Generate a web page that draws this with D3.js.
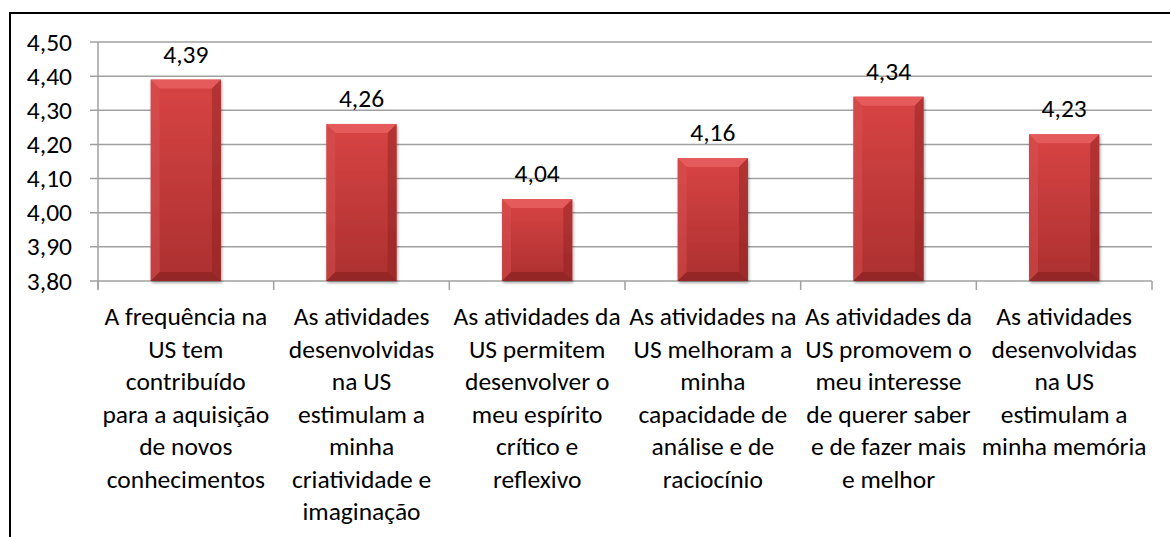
<!DOCTYPE html>
<html>
<head>
<meta charset="utf-8">
<script src="https://cdn.jsdelivr.net/npm/d3@7"></script>
<style>
  body { margin: 0; background: #fff; }
  svg { display: block; font-family: Carlito, Calibri, Lato, sans-serif; }
</style>
</head>
<body>
<svg id="chart" width="1170" height="537"></svg>
<script>
// data
const categories = [
  ["A frequência na", "US tem", "contribuído", "para a aquisição", "de novos", "conhecimentos"],
  ["As atividades", "desenvolvidas", "na US", "estimulam a", "minha", "criatividade e", "imaginação"],
  ["As atividades da", "US permitem", "desenvolver o", "meu espírito", "crítico e", "reflexivo"],
  ["As atividades na", "US melhoram a", "minha", "capacidade de", "análise e de", "raciocínio"],
  ["As atividades da", "US promovem o", "meu interesse", "de querer saber", "e de fazer mais", "e melhor"],
  ["As atividades", "desenvolvidas", "na US", "estimulam a", "minha memória"]
]
const values = [4.39, 4.26, 4.04, 4.16, 4.34, 4.23]
const yTicks = [3.8, 3.9, 4.0, 4.1, 4.2, 4.3, 4.4, 4.5]

const svg = d3.select("#chart")
const plotLeft = 98, plotRight = 1152, plotTop = 42, plotBottom = 281
const fmt = d => d3.format(".2f")(d).replace(".", ",")
const FONT = "25.5px"

// outer frame (top + left only visible)
svg.append("path")
  .attr("d", "M10,537 V13 H1170")
  .attr("fill", "none").attr("stroke", "#000").attr("stroke-width", 2)

const x = d3.scaleBand().domain(d3.range(categories.length)).range([plotLeft, plotRight]).paddingInner(0.6).paddingOuter(0.3)
const y = d3.scaleLinear().domain([3.8, 4.5]).range([plotBottom, plotTop])

// gridlines
svg.append("g").selectAll("line").data(yTicks).join("line")
  .attr("x1", plotLeft - 8).attr("x2", plotRight)
  .attr("y1", d => y(d)).attr("y2", d => y(d))
  .attr("stroke", "#a0a0a0").attr("stroke-width", 1.5)

// axis lines
svg.append("line").attr("x1", plotLeft).attr("x2", plotLeft).attr("y1", plotTop).attr("y2", plotBottom + 8)
  .attr("stroke", "#a0a0a0").attr("stroke-width", 1.5)
const step = (plotRight - plotLeft) / categories.length
svg.append("g").selectAll("line").data(d3.range(categories.length + 1)).join("line")
  .attr("x1", i => plotLeft + i * step).attr("x2", i => plotLeft + i * step)
  .attr("y1", plotBottom).attr("y2", plotBottom + 9)
  .attr("stroke", "#a0a0a0").attr("stroke-width", 1.5)

// y tick labels
svg.append("g").selectAll("text").data(yTicks).join("text")
  .attr("x", 72).attr("y", d => y(d))
  .attr("text-anchor", "end").attr("dominant-baseline", "central")
  .attr("font-size", FONT).attr("fill", "#000")
  .text(fmt)

// gradients
const defs = svg.append("defs")
const grad = defs.append("linearGradient").attr("id", "barGrad")
  .attr("x1", 0).attr("y1", 0).attr("x2", 0).attr("y2", 1)
grad.append("stop").attr("offset", "0%").attr("stop-color", "#d84444")
grad.append("stop").attr("offset", "100%").attr("stop-color", "#ac3030")
const shadow = defs.append("filter").attr("id", "shadow").attr("x", "-20%").attr("y", "-20%").attr("width", "140%").attr("height", "140%")
shadow.append("feGaussianBlur").attr("in", "SourceAlpha").attr("stdDeviation", 1.5)
shadow.append("feOffset").attr("dx", 1).attr("dy", 2).attr("result", "b")
shadow.append("feComponentTransfer").append("feFuncA").attr("type", "linear").attr("slope", 0.35)
const merge = shadow.append("feMerge")
merge.append("feMergeNode")
merge.append("feMergeNode").attr("in", "SourceGraphic")

// bars
const bev = 9
const bars = svg.append("g").selectAll("g").data(values).join("g")
  .attr("filter", "url(#shadow)")
bars.append("rect")
  .attr("x", (d, i) => x(i)).attr("y", d => y(d))
  .attr("width", x.bandwidth()).attr("height", d => plotBottom - y(d))
  .attr("fill", "url(#barGrad)")
// bevel: top
bars.append("path").attr("fill", "#e86060").attr("opacity", 0.8)
  .attr("d", (d, i) => {
    const x0 = x(i), x1 = x(i) + x.bandwidth(), y0 = y(d)
    return `M${x0},${y0}H${x1}L${x1 - bev},${y0 + bev}H${x0 + bev}Z`
  })
// bevel: left
bars.append("path").attr("fill", "#d85050").attr("opacity", 0.5)
  .attr("d", (d, i) => {
    const x0 = x(i), y0 = y(d)
    return `M${x0},${y0}L${x0 + bev},${y0 + bev}V${plotBottom - bev}L${x0},${plotBottom}Z`
  })
// bevel: right
bars.append("path").attr("fill", "#8a2222").attr("opacity", 0.45)
  .attr("d", (d, i) => {
    const x1 = x(i) + x.bandwidth(), y0 = y(d)
    return `M${x1},${y0}L${x1 - bev},${y0 + bev}V${plotBottom - bev}L${x1},${plotBottom}Z`
  })
// bevel: bottom
bars.append("path").attr("fill", "#7a1c1c").attr("opacity", 0.5)
  .attr("d", (d, i) => {
    const x0 = x(i), x1 = x(i) + x.bandwidth()
    return `M${x0},${plotBottom}L${x0 + bev},${plotBottom - bev}H${x1 - bev}L${x1},${plotBottom}Z`
  })

// value labels
svg.append("g").selectAll("text").data(values).join("text")
  .attr("x", (d, i) => x(i) + x.bandwidth() / 2).attr("y", d => y(d) - 17)
  .attr("text-anchor", "middle")
  .attr("font-size", FONT).attr("fill", "#000")
  .text(fmt)

// category labels
const lab = svg.append("g").selectAll("text").data(categories).join("text")
  .attr("text-anchor", "middle")
  .attr("font-size", FONT).attr("fill", "#000")
lab.selectAll("tspan").data((d, i) => d.map(t => ({t, i}))).join("tspan")
  .attr("x", d => x(d.i) + x.bandwidth() / 2)
  .attr("y", (d, j) => 325 + j * 32.5)
  .text(d => d.t)
</script>
</body>
</html>
